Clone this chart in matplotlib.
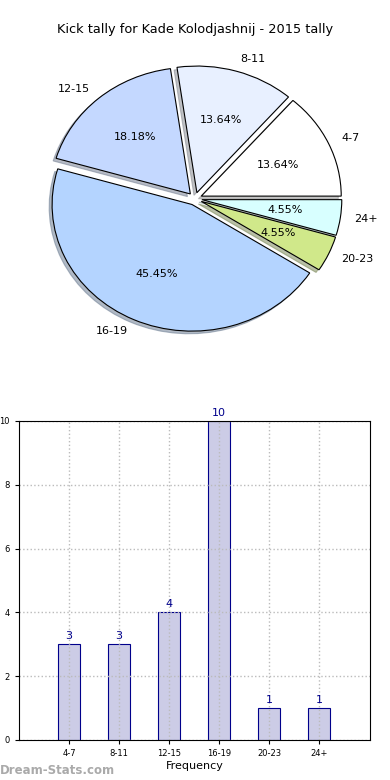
import matplotlib
matplotlib.use('Agg')
import matplotlib.pyplot as plt

# kick tally per range
categories = ['4-7', '8-11', '12-15', '16-19', '20-23', '24+']
counts = [3, 3, 4, 10, 1, 1]
slice_colours = ['#FFFFFF', '#E8F0FF', '#C4D8FF', '#B4D4FF', '#D0E88A', '#D8FFFF']
explode = [0.05, 0.05, 0.05, 0.05, 0.05, 0.05]

title = 'Kick tally for Kade Kolodjashnij - 2015 tally'

fig = plt.figure(figsize=(3.9, 7.8), dpi=100)

# pie on top
ax1 = fig.add_axes([0.0513, 0.5423, 0.897, 0.4058])
wedges, texts, autotexts = ax1.pie(counts, labels=categories, colors=slice_colours,
                                   explode=explode, autopct='%1.2f%%',
                                   shadow={'ox': -0.015, 'oy': -0.015, 'shade': 0.45},
                                   startangle=0,
                                   wedgeprops={'edgecolor': 'black', 'linewidth': 0.8},
                                   textprops={'fontsize': 8})
ax1.set_aspect('auto')
ax1.set_xlim(-1.25, 1.25)
ax1.set_ylim(-1.25, 1.25)
fig.text(0.5, 1 - 30 / 780, title, ha='center', va='center', fontsize=9.3)

# bar chart below
ax2 = fig.add_axes([0.0487, 0.0513, 0.9, 0.409])
xs = list(range(len(categories)))
ax2.bar(xs, counts, width=0.45, color='#CCCCE6', edgecolor='#00008B', linewidth=0.8,
        zorder=1)
for x, c in zip(xs, counts):
    ax2.text(x, c + 0.1, str(c), ha='center', va='bottom', color='#00008B', fontsize=8)
ax2.set_xlim(-1, 6.02)
ax2.set_ylim(0, 10)
ax2.set_yticks([0, 2, 4, 6, 8, 10])
ax2.set_xticks(xs)
ax2.set_xticklabels(categories)
ax2.tick_params(labelsize=6, length=3)
ax2.grid(True, linestyle=':', color='#BBBBBB', linewidth=1, zorder=1.5)
for sp in ax2.spines.values():
    sp.set_zorder(3)
ax2.set_xlabel('Frequency', fontsize=8, labelpad=2)
ax2.set_ylabel('Distribution', fontsize=8, labelpad=8)

fig.text(0.0, 1 - 770 / 780, 'Dream-Stats.com', ha='left', va='center',
         fontsize=8.5, color='#AAAAAA', fontweight='bold')

fig.savefig('out.png', dpi=100)
